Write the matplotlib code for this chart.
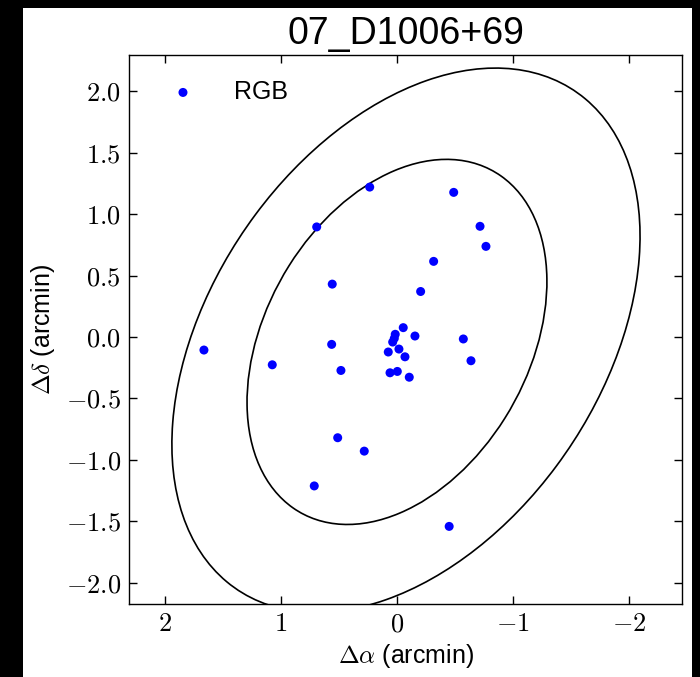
import matplotlib
matplotlib.use("Agg")
import matplotlib.pyplot as plt
from matplotlib.patches import Ellipse, Rectangle
from matplotlib.ticker import FuncFormatter, FixedLocator

plt.rcParams['mathtext.fontset'] = 'cm'
plt.rcParams['font.family'] = ['Liberation Sans', 'DejaVu Sans']

# Data (arcmin)
title = "07_D1006+69"
ra_off = [0.235, -0.489, 0.692, -0.716, -0.767, -0.316, -0.204, 0.558,
          1.664, 1.075, 0.563, 0.483, 0.511, 0.282, 0.713, -0.45,
          -0.572, -0.638,
          -0.054, 0.015, 0.023, 0.037, -0.155, 0.075, -0.017, -0.069,
          0.060, -0.003, -0.106]
dec_off = [1.219, 1.176, 0.895, 0.900, 0.737, 0.615, 0.370, 0.430,
           -0.106, -0.226, -0.060, -0.272, -0.819, -0.928, -1.211, -1.54,
           -0.016, -0.193,
           0.076, 0.022, -0.011, -0.041, 0.008, -0.122, -0.098, -0.161,
           -0.291, -0.280, -0.327]

# Ellipse parameters: inner, outer
ell_cx = [0.0, -0.0775]
ell_cy = [-0.04, -0.0265]
ell_semimajor = [1.62, 2.4985]
ell_axis_ratio = [0.69, 0.661]
ell_angle_deg = [123.6, 128.2]

xticks = [2, 1, 0, -1, -2]
yticks = [2.0, 1.5, 1.0, 0.5, 0.0, -0.5, -1.0, -1.5, -2.0]

fig = plt.figure(figsize=(7.0, 6.77), dpi=100, facecolor='black')
fig.patches.append(Rectangle((23/700, 0), 669/700, 669/677, transform=fig.transFigure,
                             facecolor='white', edgecolor='none', zorder=-10))
ax = fig.add_axes([129/700, 73/677, 553/700, 549/677])

for cx, cy, a, q, ang in zip(ell_cx, ell_cy, ell_semimajor, ell_axis_ratio, ell_angle_deg):
    e = Ellipse((cx, cy), width=2*a, height=2*a*q, angle=ang,
                facecolor='none', edgecolor='black', lw=1.2, zorder=2)
    ax.add_patch(e)

ax.scatter(ra_off, dec_off, s=42, color='#0000ff', edgecolors='none', zorder=3, label='RGB')

ax.set_xlim(2.31, -2.457)
ax.set_ylim(-2.171, 2.293)

ax.xaxis.set_major_locator(FixedLocator(xticks))
ax.yaxis.set_major_locator(FixedLocator(yticks))
ax.xaxis.set_major_formatter(FuncFormatter(lambda v, p: r'$%d$' % round(v)))
ax.yaxis.set_major_formatter(FuncFormatter(lambda v, p: r'$%.1f$' % v))
ax.tick_params(direction='in', top=True, right=True, length=5.5, width=1,
               labelsize=19, pad=6)
for s in ax.spines.values():
    s.set_linewidth(1.0)

ax.set_xlabel(r'$\Delta\alpha$ (arcmin)', fontsize=18, labelpad=4)
ax.set_ylabel(r'$\Delta\delta$ (arcmin)', fontsize=18, labelpad=6)
ax.set_title(title, fontsize=27, pad=8)

ax.legend(loc='upper left', bbox_to_anchor=(0.0072, 1.0), frameon=False, fontsize=18,
          handletextpad=1.04, borderaxespad=0.6, markerscale=1.0)

fig.savefig('out.png', dpi=100, facecolor=fig.get_facecolor())
